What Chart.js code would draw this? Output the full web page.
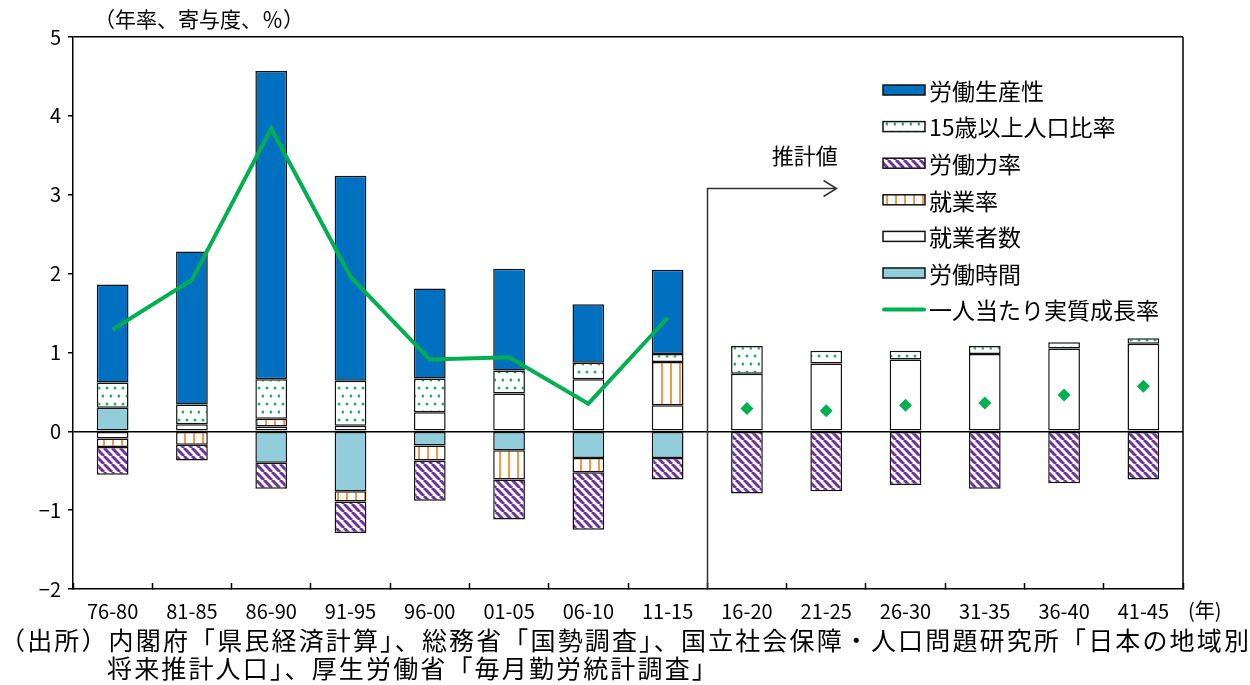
<!DOCTYPE html>
<html lang="ja">
<head>
<meta charset="utf-8">
<script src="https://cdn.jsdelivr.net/npm/chart.js@4.4.1/dist/chart.umd.min.js"></script>
<style>
  html, body { margin: 0; padding: 0; background: #fff; }
  #wrap { position: relative; width: 1250px; height: 685px; }
  #chart { position: absolute; left: 0; top: 0; }
  .note { position: absolute; font-family: "Noto Sans CJK JP", sans-serif; color: #000; white-space: nowrap; line-height: 1; }
</style>
</head>
<body>
<div id="wrap">
  <canvas id="chart" width="1250" height="685"></canvas>
  <div class="note" style="left:94px; top:8px; font-size:21px;">（年率、寄与度、％）</div>
  <div class="note" style="left:0; top:627px; font-size:25px; letter-spacing:2.15px;">（出所）内閣府「県民経済計算」、総務省「国勢調査」、国立社会保障・人口問題研究所「日本の地域別</div>
  <div class="note" style="left:107px; top:655px; font-size:25px; letter-spacing:2.15px;">将来推計人口」、厚生労働省「毎月勤労統計調査」</div>
</div>
<script>
// periods (5-year averages), last six are projections
const categories = ["76-80", "81-85", "86-90", "91-95", "96-00", "01-05", "06-10", "11-15",
  "16-20", "21-25", "26-30", "31-35", "36-40", "41-45"];

// contributions, % points
const productivity = [1.24, 1.94, 3.91, 2.60, 1.14, 1.29, 0.74, 1.07, null, null, null, null, null, null];
const popRatio = [0.32, 0.25, 0.50, 0.57, 0.43, 0.29, 0.21, 0.10, 0.35, 0.16, 0.11, 0.10, 0.08, 0.07];
const laborForce = [-0.35, -0.20, -0.33, -0.40, -0.51, -0.51, -0.73, -0.27, -0.79, -0.76, -0.68, -0.73, -0.66, -0.61];
const employRate = [-0.11, -0.17, 0.10, -0.13, -0.19, -0.37, -0.18, 0.55, null, null, null, null, null, null];
const employed = [-0.09, 0.09, 0.06, 0.07, 0.24, 0.48, 0.66, 0.33, 0.73, 0.86, 0.91, 0.98, 1.05, 1.11];
const hours = [0.30, null, -0.40, -0.76, -0.18, -0.24, -0.34, -0.34, null, null, null, null, null, null];
const perCapita = [1.29, 1.92, 3.84, 1.96, 0.91, 0.94, 0.35, 1.44, 0.29, 0.26, 0.33, 0.36, 0.46, 0.57];

const legendOrder = ["労働生産性", "15歳以上人口比率", "労働力率", "就業率", "就業者数", "労働時間", "一人当たり実質成長率"];

const FONT = '"Noto Sans CJK JP", "Noto Sans", sans-serif';
const GREEN = "#00B050";
const canvas = document.getElementById("chart");
const ctx = canvas.getContext("2d");

function makePattern(w, h, draw) {
  const c = document.createElement("canvas");
  c.width = w;
  c.height = h;
  const g = c.getContext("2d");
  g.fillStyle = "#fff";
  g.fillRect(0, 0, w, h);
  draw(g);
  return ctx.createPattern(c, "repeat");
}

const dotFill = makePattern(8, 16, (g) => {
  g.fillStyle = "#1DB25F";
  g.beginPath();
  g.arc(3, 4, 1.5, 0, Math.PI * 2);
  g.arc(7, 12, 1.5, 0, Math.PI * 2);
  g.fill();
});
const stripeFill = makePattern(8, 8, (g) => {
  g.strokeStyle = "#7030A0";
  g.lineWidth = 3;
  g.beginPath();
  for (let k = -8; k <= 8; k += 8) {
    g.moveTo(k, 0);
    g.lineTo(k + 8, 8);
  }
  g.stroke();
});
const orangeFill = makePattern(9, 8, (g) => {
  g.fillStyle = "#F79646";
  g.fillRect(4, 0, 2, 8);
});

function barSet(label, data, fill) {
  return {
    type: "bar",
    label,
    data,
    backgroundColor: fill,
    borderColor: "#111",
    borderWidth: 1.5,
    borderSkipped: false,
    categoryPercentage: 1,
    barPercentage: 0.4,
  };
}

// stacking goes outward from zero in this order
const datasets = [
  barSet("就業者数", employed, "#fff"),
  barSet("労働時間", hours, "#92CDDC"),
  barSet("就業率", employRate, orangeFill),
  barSet("労働力率", laborForce, stripeFill),
  barSet("15歳以上人口比率", popRatio, dotFill),
  barSet("労働生産性", productivity, "#0070C0"),
  {
    type: "line",
    label: "一人当たり実質成長率",
    data: perCapita,
    stack: "line",
    order: -1,
    borderColor: GREEN,
    borderWidth: 4,
    tension: 0,
    pointStyle: "rectRot",
    pointRadius: (c) => (c.dataIndex >= 8 ? 6.5 : 0),
    pointBackgroundColor: GREEN,
    pointBorderWidth: 0,
    segment: {
      borderColor: (c) => (c.p0DataIndex >= 7 ? "rgba(0,0,0,0)" : GREEN),
    },
  },
];

const extras = {
  id: "extras",
  afterDraw(chart) {
    const { ctx, chartArea } = chart;
    const x = chart.scales.x;
    const y = chart.scales.y;
    ctx.save();
    ctx.strokeStyle = "#000";
    ctx.lineWidth = 1.5;

    // right side of the plot box
    ctx.beginPath();
    ctx.moveTo(chartArea.right, chartArea.top);
    ctx.lineTo(chartArea.right, chartArea.bottom);
    ctx.stroke();

    // projection divider + arrow
    const sepX = Math.round(x.getPixelForValue(7.5)) + 0.5;
    const arrY = Math.round(y.getPixelForValue(3.08)) + 0.5;
    const tipX = x.getPixelForValue(9.13);
    ctx.strokeStyle = "#333";
    ctx.beginPath();
    ctx.moveTo(sepX, chartArea.bottom);
    ctx.lineTo(sepX, arrY);
    ctx.lineTo(tipX, arrY);
    ctx.moveTo(tipX - 13, arrY - 8);
    ctx.lineTo(tipX, arrY);
    ctx.lineTo(tipX - 13, arrY + 8);
    ctx.stroke();

    ctx.fillStyle = "#000";
    ctx.font = "22px " + FONT;
    ctx.textAlign = "center";
    ctx.textBaseline = "middle";
    ctx.fillText("推計値", x.getPixelForValue(8.73), y.getPixelForValue(3.5));

    ctx.font = "20px " + FONT;
    ctx.textAlign = "left";
    ctx.fillText("(年)", chartArea.right + 5, 610);

    // legend inside the plot
    ctx.font = "23px " + FONT;
    legendOrder.forEach((name, i) => {
      const ds = chart.data.datasets.find((d) => d.label === name);
      const ly = 90 + i * 36.6;
      if (ds.type === "line") {
        ctx.strokeStyle = GREEN;
        ctx.lineWidth = 4;
        ctx.lineCap = "round";
        ctx.beginPath();
        ctx.moveTo(884, ly);
        ctx.lineTo(924, ly);
        ctx.stroke();
        ctx.lineCap = "butt";
      } else {
        ctx.fillStyle = ds.backgroundColor;
        ctx.fillRect(883, ly - 5, 42, 10);
        ctx.strokeStyle = "#111";
        ctx.lineWidth = 1.5;
        ctx.strokeRect(883, ly - 5, 42, 10);
      }
      ctx.fillStyle = "#000";
      ctx.fillText(name, 929, ly + 1);
    });
    ctx.restore();
  },
};

new Chart(canvas, {
  data: { labels: categories, datasets },
  options: {
    responsive: false,
    animation: false,
    layout: { padding: { top: 37, right: 67, left: 0, bottom: 0 } },
    plugins: { legend: { display: false }, tooltip: { enabled: false } },
    scales: {
      x: {
        stacked: true,
        offset: true,
        afterFit: (s) => { s.height = 96; },
        grid: { drawOnChartArea: false, tickLength: -6, tickColor: "#000", tickWidth: 1.5 },
        border: { color: "#000", width: 1.5 },
        ticks: { color: "#000", font: { size: 20, family: FONT }, padding: 16, maxRotation: 0, autoSkip: false },
      },
      y: {
        stacked: true,
        min: -2,
        max: 5,
        afterFit: (s) => { s.width = 73; },
        grid: {
          color: (c) => (c.tick && (c.tick.value === 0 || c.tick.value === 5) ? "#000" : "rgba(0,0,0,0)"),
          lineWidth: 1.5,
          tickColor: "#000",
          tickLength: 5,
        },
        border: { color: "#000", width: 1.5 },
        ticks: {
          stepSize: 1,
          color: "#000",
          padding: 7,
          font: { size: 20, family: FONT },
          callback: (v) => (v < 0 ? "−" + Math.abs(v) : String(v)),
        },
      },
    },
  },
  plugins: [extras],
});
</script>
</body>
</html>
